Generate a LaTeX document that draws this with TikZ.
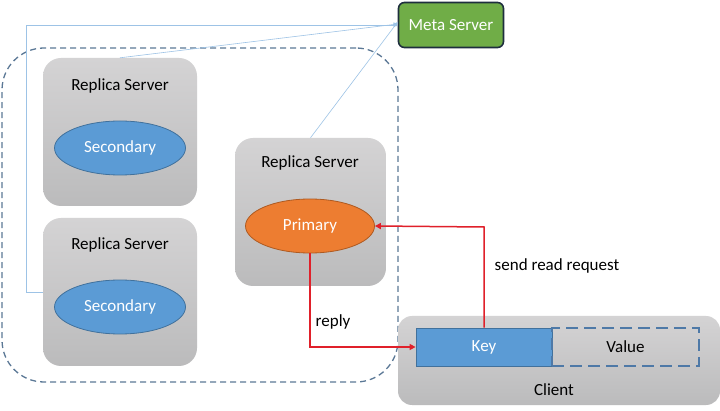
\documentclass[tikz,border=0pt]{standalone}
\usepackage{fontspec}
\setmainfont{Carlito}
\usetikzlibrary{arrows.meta,shapes.geometric}
\definecolor{boxtop}{HTML}{D4D3D4}
\definecolor{boxbot}{HTML}{BBBBBC}
\definecolor{secfill}{HTML}{5B9BD5}
\definecolor{secdraw}{HTML}{41719C}
\definecolor{prifill}{HTML}{ED7D31}
\definecolor{pridraw}{HTML}{AE5A21}
\definecolor{metafill}{HTML}{70AD47}
\definecolor{metadraw}{HTML}{1E2E3E}
\definecolor{grpdraw}{HTML}{5B7896}
\definecolor{thinline}{HTML}{9DC3E6}
\definecolor{redline}{HTML}{E0202A}
\definecolor{valdraw}{HTML}{4E79A7}
\tikzset{
  bigfont/.style={font=\fontsize{17}{20}\selectfont},
  serverbox/.style={rounded corners=18pt, top color=boxtop, bottom color=boxbot, minimum width=154pt, minimum height=148pt, inner sep=0pt},
  clientbox/.style={rounded corners=14pt, top color=boxtop, bottom color=boxbot, minimum width=322pt, minimum height=89pt, inner sep=0pt},
  title/.style={bigfont, text=black},
  secell/.style={ellipse, fill=secfill, draw=secdraw, line width=0.8pt, minimum width=131pt, minimum height=54pt, inner sep=0pt, text=white, bigfont},
  priell/.style={ellipse, fill=prifill, draw=pridraw, line width=0.8pt, minimum width=129pt, minimum height=54pt, inner sep=0pt, text=white, bigfont},
  metaline/.style={draw=thinline, line width=0.6pt, -{Triangle[length=4pt,width=4pt]}},
  redarrow/.style={draw=redline, line width=1.5pt, -{Triangle[length=6pt,width=6pt]}},
  lbl/.style={bigfont, text=black}
}
\begin{document}
\begin{tikzpicture}[x=1pt,y=-1pt]
\useasboundingbox[fill=white] (0,0) rectangle (720,411);
% group
\node[draw=grpdraw, dashed, dash pattern=on 6pt off 4pt, line width=1.3pt, rounded corners=42pt, minimum width=396pt, minimum height=334pt, inner sep=0pt] (grp) at (200,215) {};
% servers
\node[serverbox] (rs1) at (120,132) {};
\node[title] (t1) at (120,86) {Replica Server};
\node[secell] (s1) at (120,148) {Secondary};
\node[serverbox] (rs2) at (120,292) {};
\node[title] (t2) at (120,245) {Replica Server};
\node[secell] (s2) at (120,307) {Secondary};
\node[serverbox, minimum width=151pt] (rs3) at (310.5,212) {};
\node[title] (t3) at (310,163) {Replica Server};
\node[priell] (p) at (310,226) {Primary};
% meta
\node[rounded corners=6pt, fill=metafill, draw=metadraw, line width=1.6pt, minimum width=105pt, minimum height=45pt, inner sep=0pt, text=white, bigfont] (meta) at (451,25) {Meta Server};
% client
\node[clientbox] (cl) at (559,360.5) {};
\node[lbl] (ct) at (554,390) {Client};
\node[fill=secfill, draw=secdraw, line width=0.8pt, minimum width=136pt, minimum height=38pt, inner sep=0pt, text=white, bigfont] (key) at (484,347) {Key};
\node[draw=valdraw, dashed, dash pattern=on 12pt off 6pt, line width=1.6pt, minimum width=147pt, minimum height=38pt, inner sep=0pt, bigfont] (val) at (625.5,347) {Value};
% thin lines to meta
\coordinate (c1) at (26,25);
\draw[metaline] (rs2.west) -| (c1) -- (meta.west);
\draw[metaline] (rs1.north) -- ([yshift=1pt]meta.west);
\draw[metaline] (rs3.north) -- ([yshift=3pt]meta.west);
% red arrows
\coordinate (r1) at (484,227);
\draw[redarrow] (key.north) -- (r1) -- (p.east);
\coordinate (r2) at (310,347);
\draw[redarrow] (p.south) -- (r2) -- (key.west);
\node[lbl] (lsend) at (557,266) {send read request};
\node[lbl] (lreply) at (333,322) {reply};
\end{tikzpicture}
\end{document}
